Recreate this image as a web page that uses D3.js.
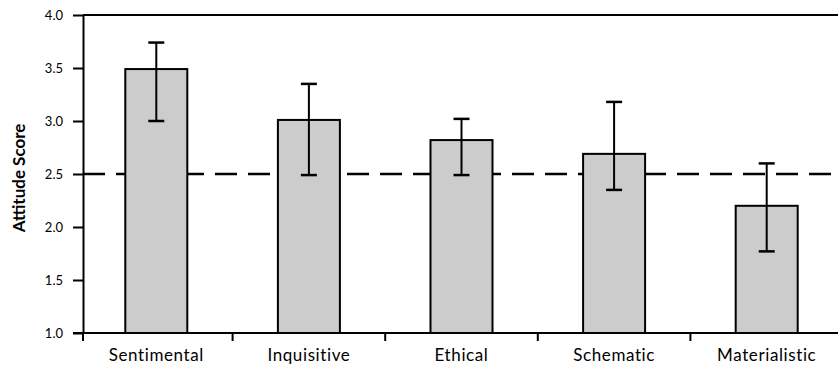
<!DOCTYPE html>
<html>
<head>
<meta charset="utf-8">
<script src="https://cdn.jsdelivr.net/npm/d3@7"></script>
<style>
	body { margin: 0; background: #fff; }
	svg { display: block; }
	text { font-family: Lato, "Open Sans", sans-serif; }
</style>
</head>
<body>
<div class="container"></div>
<script>
var	WIDTH = 838,
	HEIGHT = 367,
	LEFT = 83,
	TOP = 15,
	BOTTOM = 333;

var categories = ['Sentimental', 'Inquisitive', 'Ethical', 'Schematic', 'Materialistic'];
var scores = [3.49, 3.01, 2.82, 2.69, 2.20];
var errHigh = [3.74, 3.35, 3.02, 3.18, 2.60];
var errLow = [3.00, 2.49, 2.49, 2.35, 1.77];
var yTicks = [1.0, 1.5, 2.0, 2.5, 3.0, 3.5, 4.0];
var reference = 2.5;

var svg = d3.select('.container').append('svg')
	.attr('width', WIDTH)
	.attr('height', HEIGHT);

var xScale = d3.scaleBand()
	.domain(categories)
	.range([80, 843])
	.paddingInner(0)
	.paddingOuter(0);

var yScale = d3.scaleLinear()
	.domain([1, 4])
	.range([BOTTOM, TOP]);

var barW = 62;

function cx(d) { return xScale(d) + xScale.bandwidth() / 2; }

// reference line (behind bars)
svg.append('line')
	.attr('x1', LEFT).attr('x2', WIDTH)
	.attr('y1', yScale(reference)).attr('y2', yScale(reference))
	.attr('stroke', '#000')
	.attr('stroke-width', 2.5)
	.attr('stroke-dasharray', '22,11');

// top frame line
svg.append('line')
	.attr('x1', LEFT).attr('x2', WIDTH)
	.attr('y1', yScale(4)).attr('y2', yScale(4))
	.attr('stroke', '#000')
	.attr('stroke-width', 2);

svg.selectAll('.bar')
	.data(categories).enter()
	.append('rect')
	.attr('class', 'bar')
	.attr('x', function(d) { return cx(d) - barW / 2; })
	.attr('width', barW)
	.attr('y', function(d, i) { return yScale(scores[i]); })
	.attr('height', function(d, i) { return yScale(1) - yScale(scores[i]); })
	.attr('fill', '#cccccc')
	.attr('stroke', '#000')
	.attr('stroke-width', 2);

var err = svg.selectAll('.err')
	.data(categories).enter()
	.append('g')
	.attr('class', 'err')
	.attr('stroke', '#000')
	.attr('stroke-width', 2);

err.append('line')
	.attr('x1', cx).attr('x2', cx)
	.attr('y1', function(d, i) { return yScale(errHigh[i]); })
	.attr('y2', function(d, i) { return yScale(errLow[i]); });
err.append('line')
	.attr('x1', function(d) { return cx(d) - 8; })
	.attr('x2', function(d) { return cx(d) + 8; })
	.attr('y1', function(d, i) { return yScale(errHigh[i]); })
	.attr('y2', function(d, i) { return yScale(errHigh[i]); })
	.attr('stroke-width', 2.5);
err.append('line')
	.attr('x1', function(d) { return cx(d) - 8; })
	.attr('x2', function(d) { return cx(d) + 8; })
	.attr('y1', function(d, i) { return yScale(errLow[i]); })
	.attr('y2', function(d, i) { return yScale(errLow[i]); })
	.attr('stroke-width', 2.5);

var yAxis = d3.axisLeft(yScale)
	.tickValues(yTicks)
	.tickFormat(d3.format('.1f'))
	.tickSize(10)
	.tickPadding(10)
	.tickSizeOuter(0);

var yAxisGroup = svg.append('g')
	.attr('transform', 'translate(' + LEFT + ',0)')
	.call(yAxis)
	.attr('font-family', 'Lato, sans-serif')
	.attr('font-size', 13);
yAxisGroup.selectAll('line, path').attr('stroke', '#000').attr('stroke-width', 2);
yAxisGroup.selectAll('text').attr('fill', '#000');

var xAxis = d3.axisBottom(xScale)
	.tickSize(0)
	.tickPadding(16)
	.tickSizeOuter(0);

var xAxisGroup = svg.append('g')
	.attr('transform', 'translate(0,' + BOTTOM + ')')
	.call(xAxis)
	.attr('font-family', 'Lato, sans-serif')
	.attr('font-size', 17);
xAxisGroup.select('.domain').remove();
xAxisGroup.selectAll('text').attr('fill', '#000').attr('letter-spacing', 0.6);

// axis line and category separators
svg.append('line')
	.attr('x1', LEFT - 10).attr('x2', WIDTH)
	.attr('y1', BOTTOM).attr('y2', BOTTOM)
	.attr('stroke', '#000').attr('stroke-width', 2);

svg.selectAll('.sep')
	.data(categories.slice(1)).enter()
	.append('line')
	.attr('class', 'sep')
	.attr('x1', function(d) { return xScale(d); })
	.attr('x2', function(d) { return xScale(d); })
	.attr('y1', BOTTOM).attr('y2', BOTTOM + 8)
	.attr('stroke', '#000').attr('stroke-width', 2);

svg.append('line')
	.attr('x1', LEFT).attr('x2', LEFT)
	.attr('y1', BOTTOM).attr('y2', BOTTOM + 8)
	.attr('stroke', '#000').attr('stroke-width', 2);

svg.append('text')
	.attr('transform', 'translate(25,178) rotate(-90)')
	.attr('text-anchor', 'middle')
	.attr('font-size', 17)
	.attr('font-weight', 'bold')
	.text('Attitude Score');
</script>
</body>
</html>
